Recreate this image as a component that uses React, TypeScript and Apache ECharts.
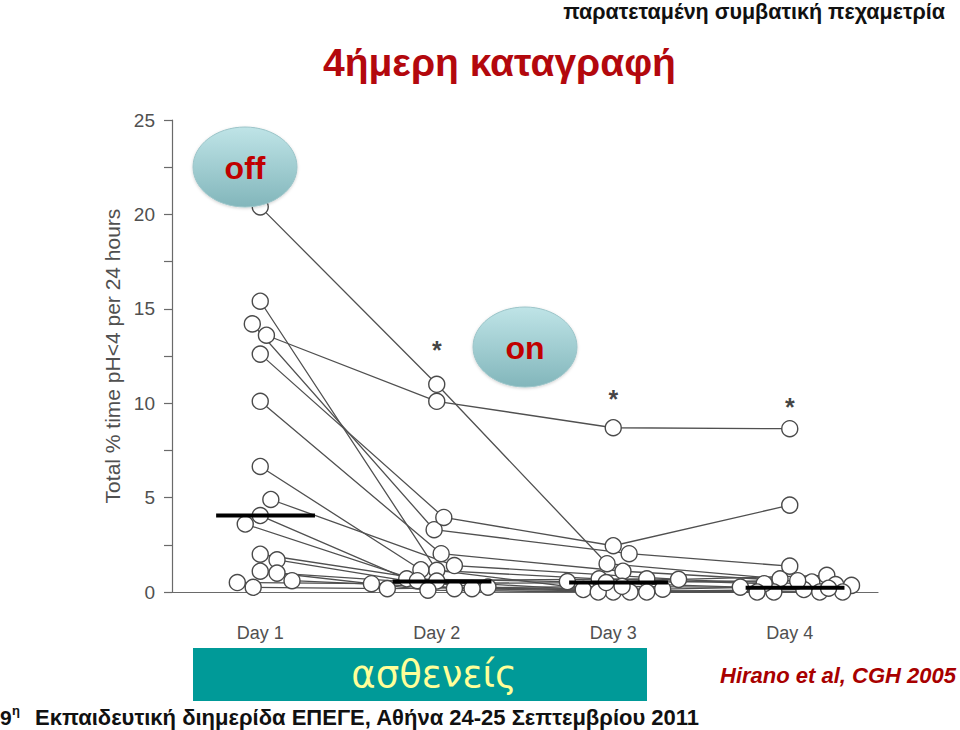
import React, { useEffect, useRef } from "react";
import * as echarts from "echarts";

const days = ["Day 1", "Day 2", "Day 3", "Day 4"];
const yMin = 0;
const yMax = 25;
const yStep = 2.5;

// Total % time pH<4 per 24 hours, one entry per patient (same order in each array)
const day1 = [20.4, 13.6, 15.4, 14.2, 12.6, 10.1, 6.65, 4.9, 4.05, 3.6, 2.0, 1.7, 1.1, 1.0, 0.6, 0.5, 0.25];
const day2 = [11.0, 10.1, 1.15, 3.3, 3.95, 2.03, 1.18, 1.4, 0.7, 0.6, 0.58, 0.18, 0.1, 0.26, 0.18, 0.44, 0.18];
const day3 = [1.5, 8.7, 0.0, 2.03, 2.45, 1.1, 0.7, 0.67, 0.55, 0.7, 0.13, 0.15, 0.0, 0.0, 0.0, 0.5, 0.3];
const day4 = [0.7, 8.65, 0.0, 1.37, 4.6, 0.53, 0.44, 0.88, 0.26, 0.39, 0.0, 0.35, 0.13, 0.0, 0.0, 0.6, 0.2];

// horizontal spread of each patient's point around its day (in day units)
const jitter1 = [0, 0.035, 0, -0.045, 0, 0, 0, 0.06, 0, -0.085, 0, 0.095, 0, 0.095, 0.18, -0.13, -0.04];
const jitter2 = [0, 0, 0, -0.015, 0.04, 0.025, -0.09, 0.1, -0.17, -0.11, 0, 0.1, -0.05, 0.29, 0.2, -0.37, -0.28];
const jitter3 = [-0.035, 0, 0, 0.09, 0, 0.055, -0.08, 0.37, -0.26, 0.19, -0.17, 0.28, -0.085, 0.095, 0.19, -0.04, 0.05];
const jitter4 = [-0.055, 0, -0.09, 0, 0, 0.125, -0.145, 0.21, -0.28, 0.26, -0.185, 0.35, 0.08, 0.17, 0.3, 0.045, 0.22];

// medians per day
const medians = [4.05, 0.55, 0.5, 0.22];

// significance marks (*) above days 2-4
const starDays = [2, 3, 4];
const starLevels = [12.8, 10.2, 9.8];

const allDays = [day1, day2, day3, day4];
const allJitter = [jitter1, jitter2, jitter3, jitter4];

export default function App() {
  const ref = useRef<HTMLDivElement>(null);

  useEffect(() => {
    if (!ref.current) return;
    const chart = echarts.init(ref.current, undefined, { renderer: "svg" });

    const lineSeries: any[] = day1.map((_, p) => ({
      type: "line",
      xAxisIndex: 1,
      yAxisIndex: 0,
      symbol: "none",
      z: 2,
      lineStyle: { color: "#505050", width: 1.3 },
      data: allDays.map((d, i) => [i + 1 + allJitter[i][p], d[p]]),
      silent: true,
    }));

    const dotSeries: any[] = allDays.map((d, i) => ({
      type: "scatter",
      xAxisIndex: 1,
      yAxisIndex: 0,
      symbol: "circle",
      symbolSize: 16,
      z: 3,
      itemStyle: { color: "#ffffff", borderColor: "#4a4a4a", borderWidth: 1.4, opacity: 1 },
      data: d.map((v, p) => [i + 1 + allJitter[i][p], v]),
    }));

    const medianSeries: any[] = medians.map((m, i) => ({
      type: "line",
      xAxisIndex: 1,
      yAxisIndex: 0,
      symbol: "none",
      z: 4,
      lineStyle: { color: "#000000", width: 4 },
      data: [
        [i + 1 + 0.03 - 0.28, m],
        [i + 1 + 0.03 + 0.28, m],
      ],
    }));

    const starSeries = {
      type: "scatter",
      xAxisIndex: 1,
      yAxisIndex: 0,
      symbolSize: 1,
      itemStyle: { color: "rgba(0,0,0,0)" },
      z: 5,
      label: {
        show: true,
        position: "inside",
        formatter: "*",
        color: "#111",
        fontSize: 25,
        fontWeight: "bold",
        fontFamily: "Liberation Sans",
      },
      data: starDays.map((d, i) => [d, starLevels[i]]),
    };

    const ellipseFill = {
      type: "linear",
      x: 0,
      y: 0,
      x2: 0,
      y2: 1,
      colorStops: [
        { offset: 0, color: "#bfe4e7" },
        { offset: 1, color: "#82b6bb" },
      ],
    };

    chart.setOption({
      animation: false,
      backgroundColor: "#ffffff",
      grid: { left: 172, right: 82, top: 120, bottom: 138, containLabel: false },
      xAxis: [
        {
          type: "category",
          data: days,
          boundaryGap: true,
          position: "bottom",
          axisLine: { show: true, lineStyle: { color: "#6a6a6a", width: 1.2 } },
          axisTick: { show: false },
          axisLabel: {
            color: "#505050",
            fontSize: 18,
            fontFamily: "Liberation Sans",
            margin: 32,
          },
          splitLine: { show: false },
        },
        {
          type: "value",
          min: 0.5,
          max: 4.5,
          show: false,
          splitLine: { show: false },
        },
      ],
      yAxis: [
        {
          type: "value",
          min: yMin,
          max: yMax,
          interval: yStep,
          name: "Total % time pH<4 per 24 hours",
          nameLocation: "middle",
          nameRotate: 90,
          nameGap: 47,
          nameTextStyle: { color: "#505050", fontSize: 21, fontFamily: "Liberation Sans" },
          axisLine: { show: true, lineStyle: { color: "#6a6a6a", width: 1.2 } },
          axisTick: { show: true, length: 8, lineStyle: { color: "#6a6a6a", width: 1.2 } },
          axisLabel: {
            color: "#505050",
            fontSize: 19,
            fontFamily: "Liberation Sans",
            margin: 17,
            formatter: (v: number) => (v % 5 === 0 ? String(v) : ""),
          },
          splitLine: { show: false },
        },
      ],
      series: [...lineSeries, ...dotSeries, ...medianSeries, starSeries],
      graphic: [
        {
          type: "text",
          right: 15,
          top: 1,
          style: {
            text: "παρατεταμένη συμβατική πεχαμετρία",
            fill: "#111",
            fontSize: 21.5,
            fontWeight: "bold",
            fontFamily: "Liberation Sans",
          },
        },
        {
          type: "text",
          x: 323,
          y: 62,
          style: {
            text: "4ήμερη καταγραφή",
            fill: "#b3080d",
            fontSize: 39,
            fontWeight: "bold",
            fontFamily: "Liberation Sans",
            textVerticalAlign: "middle",
          },
        },
        {
          type: "ellipse",
          shape: { cx: 245, cy: 167, rx: 52, ry: 40 },
          style: {
            fill: ellipseFill,
            stroke: "#9cc5c9",
            lineWidth: 1,
            shadowBlur: 3,
            shadowColor: "rgba(0,0,0,0.18)",
            shadowOffsetY: 1,
          },
          z: 10,
        },
        {
          type: "text",
          x: 245,
          y: 168,
          z: 11,
          style: {
            text: "off",
            fill: "#c00000",
            fontSize: 32,
            fontWeight: "bold",
            fontFamily: "Liberation Sans",
            textAlign: "center",
            textVerticalAlign: "middle",
          },
        },
        {
          type: "ellipse",
          shape: { cx: 525, cy: 347, rx: 52, ry: 40 },
          style: {
            fill: ellipseFill,
            stroke: "#9cc5c9",
            lineWidth: 1,
            shadowBlur: 3,
            shadowColor: "rgba(0,0,0,0.18)",
            shadowOffsetY: 1,
          },
          z: 10,
        },
        {
          type: "text",
          x: 525,
          y: 348,
          z: 11,
          style: {
            text: "on",
            fill: "#c00000",
            fontSize: 32,
            fontWeight: "bold",
            fontFamily: "Liberation Sans",
            textAlign: "center",
            textVerticalAlign: "middle",
          },
        },
        {
          type: "rect",
          shape: { x: 193, y: 648, width: 454, height: 53 },
          style: { fill: "#009a98" },
        },
        {
          type: "text",
          x: 434,
          y: 674,
          style: {
            text: "ασθενείς",
            fill: "#ffff99",
            fontSize: 37,
            fontFamily: "DejaVu Sans",
            textAlign: "center",
            textVerticalAlign: "middle",
          },
        },
        {
          type: "text",
          x: 720,
          y: 675,
          style: {
            text: "Hirano et al, CGH 2005",
            fill: "#a80000",
            fontSize: 22,
            fontWeight: "bold",
            fontStyle: "italic",
            fontFamily: "Liberation Sans",
            textVerticalAlign: "middle",
          },
        },
        {
          type: "text",
          x: 0,
          y: 717,
          style: {
            text: "9",
            fill: "#111",
            fontSize: 21,
            fontWeight: "bold",
            fontFamily: "Liberation Sans",
            textVerticalAlign: "middle",
          },
        },
        {
          type: "text",
          x: 12,
          y: 710,
          style: {
            text: "η",
            fill: "#111",
            fontSize: 13,
            fontWeight: "bold",
            fontFamily: "Liberation Sans",
            textVerticalAlign: "middle",
          },
        },
        {
          type: "text",
          x: 35,
          y: 717,
          style: {
            text: "Εκπαιδευτική διημερίδα ΕΠΕΓΕ, Αθήνα 24-25 Σεπτεμβρίου 2011",
            fill: "#111",
            fontSize: 22,
            fontWeight: "bold",
            fontFamily: "Liberation Sans",
            textVerticalAlign: "middle",
          },
        },
      ],
    });

    return () => chart.dispose();
  }, []);

  return (
    <div
      ref={ref}
      style={{ position: "absolute", left: 0, top: 0, width: 960, height: 730, background: "#fff" }}
    />
  );
}
